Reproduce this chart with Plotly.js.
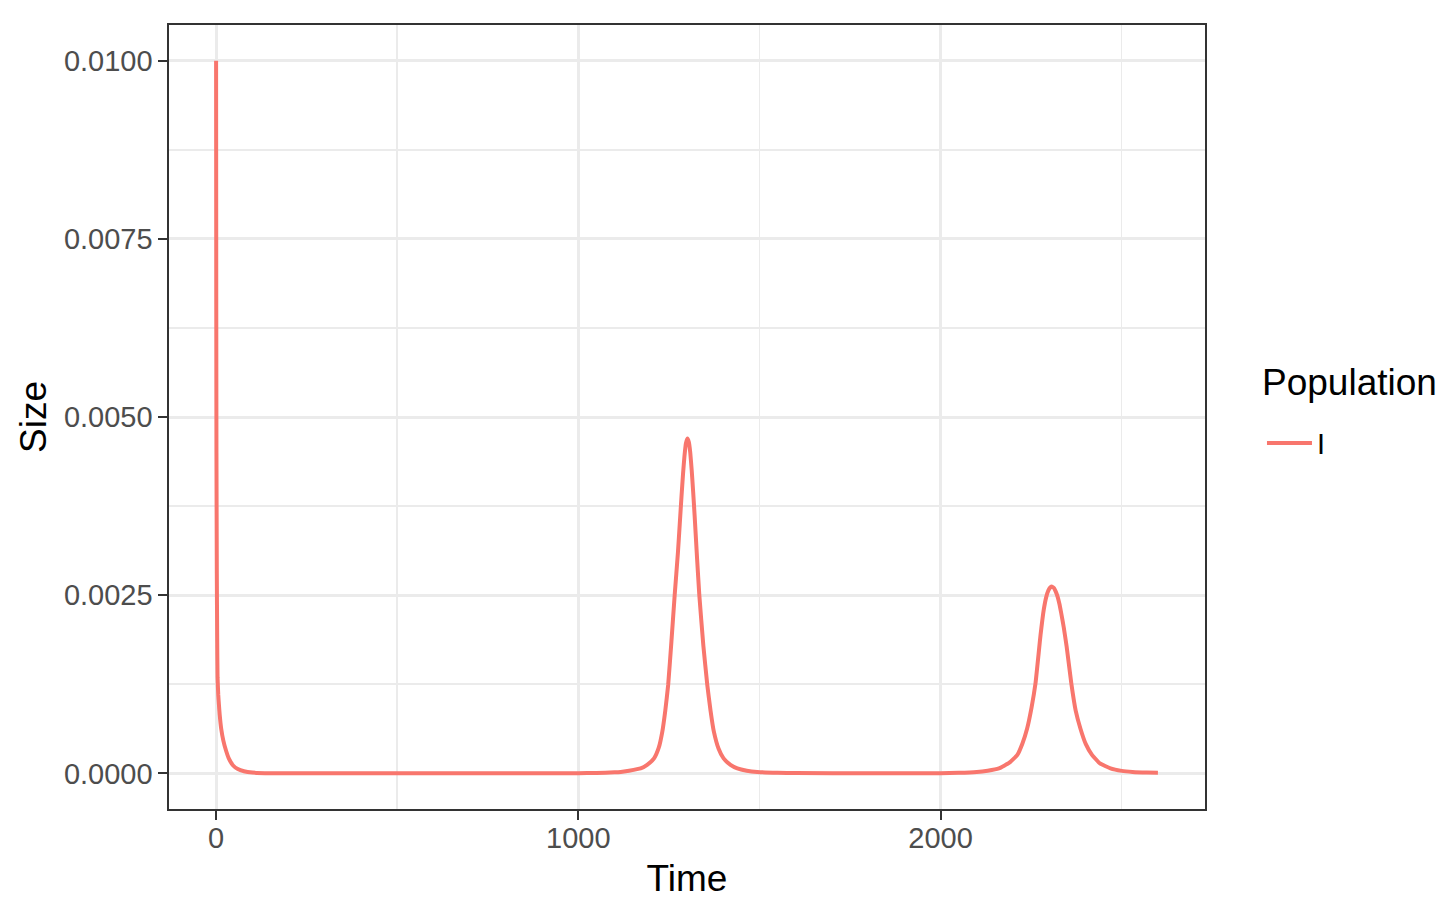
<!DOCTYPE html>
<html>
<head>
<meta charset="utf-8">
<script src="https://cdn.plot.ly/plotly-3.0.1.min.js"></script>
<style>
  html, body { margin: 0; padding: 0; background: #ffffff; }
  #chart { width: 1454px; height: 918px; }
</style>
</head>
<body>
<div id="chart"></div>
<script>
// Series "I"
var seriesName = "I";
var legendTitle = "Population";
var time = [
  0, 0.5, 1, 2, 3, 4, 6, 8, 10, 14, 20, 28, 35, 47, 60, 77, 100, 150, 200,
  400, 600, 800, 1000, 1050, 1100, 1117, 1140, 1172, 1190, 1209, 1222, 1232,
  1240, 1248, 1257, 1266, 1275, 1280, 1285, 1289, 1293, 1297, 1301, 1305,
  1309, 1313, 1317, 1321, 1328, 1334, 1345, 1356, 1365, 1374, 1387, 1401,
  1420, 1439, 1465, 1494,
  1550, 1600, 1800, 2000, 2050, 2100, 2130, 2161, 2190, 2212, 2226, 2239,
  2251, 2262, 2276, 2285, 2292, 2298, 2303, 2308, 2313, 2318, 2323, 2328,
  2333, 2340, 2348, 2361, 2373, 2386, 2401, 2418, 2440, 2469, 2500, 2530,
  2570, 2600
];
var sizeI = [
  0.0100, 0.0065, 0.0045, 0.0028, 0.0019, 0.00135, 0.0011, 0.00095, 0.00082,
  0.00063, 0.00046, 0.00031, 0.00021, 0.00011, 0.00006, 0.00003, 0.000012,
  0.000003, 0.000001,
  0.0, 0.0, 0.0000005, 0.000002, 0.000006, 0.000014, 0.00002, 0.000038,
  0.00007, 0.00012, 0.00021, 0.00036, 0.00059,
  0.00088, 0.00124, 0.00185, 0.0025, 0.0031, 0.0035, 0.0039, 0.0042, 0.00445,
  0.00463, 0.0047, 0.00465,
  0.0045, 0.00425, 0.00395, 0.00362, 0.0030, 0.0025, 0.0018, 0.00124,
  0.00088, 0.00059, 0.00035, 0.00021,
  0.00012, 0.00007, 0.000038, 0.00002,
  0.000008, 0.000004, 0.000001, 0.000003, 0.000008, 0.00002, 0.000038,
  0.00007, 0.00015, 0.00026, 0.00042, 0.00063,
  0.00092, 0.00126, 0.00194, 0.0023, 0.00248, 0.00257, 0.00261, 0.00262,
  0.0026, 0.00255, 0.00248, 0.00238,
  0.00225, 0.00205, 0.00178, 0.00126, 0.00088,
  0.00063, 0.00041, 0.00026, 0.00014, 0.00007, 0.000035, 0.00002,
  0.000012, 0.00001
];

var xTicks = [0, 1000, 2000];
var xTickText = ["0", "1000", "2000"];
var yTicks = [0, 0.0025, 0.005, 0.0075, 0.01];
var yTickText = ["0.0000", "0.0025", "0.0050", "0.0075", "0.0100"];

var FONT = "Liberation Sans, Arial, Helvetica, sans-serif";

var traces = [{
  x: time,
  y: sizeI,
  type: "scatter",
  mode: "lines",
  name: seriesName,
  line: { color: "#F8766D", width: 4, shape: "spline", smoothing: 0.4 }
}];

var layout = {
  width: 1454,
  height: 918,
  paper_bgcolor: "#ffffff",
  plot_bgcolor: "#ffffff",
  margin: { l: 169, r: 249, t: 25, b: 109, pad: 0 },
  font: { family: FONT, color: "#000000" },
  showlegend: true,
  legend: {
    x: 1.055, xanchor: "left",
    y: 0.4668, yanchor: "middle",
    bgcolor: "rgba(0,0,0,0)",
    borderwidth: 0,
    itemwidth: 45,
    font: { family: FONT, size: 29, color: "#000000" }
  },
  annotations: [{
    text: legendTitle,
    xref: "paper", yref: "paper",
    x: 1.0531, y: 0.5446,
    xanchor: "left", yanchor: "middle",
    showarrow: false,
    font: { family: FONT, size: 37, color: "#000000" }
  }],
  xaxis: {
    range: [-130, 2730],
    tickmode: "array",
    tickvals: xTicks,
    ticktext: xTickText,
    ticks: "outside",
    ticklen: 9,
    tickwidth: 2,
    tickcolor: "#333333",
    ticklabelstandoff: -6,
    tickfont: { family: FONT, size: 29, color: "#4D4D4D" },
    showgrid: true,
    gridcolor: "#EBEBEB",
    gridwidth: 3,
    minor: { tickvals: [500, 1500, 2500], showgrid: true, gridcolor: "#EBEBEB", gridwidth: 1.6, ticks: "" },
    zeroline: false,
    showline: true,
    linecolor: "#333333",
    linewidth: 1.6,
    mirror: true,
    automargin: false,
    title: { text: "Time", font: { family: FONT, size: 37, color: "#000000" }, standoff: 11 }
  },
  yaxis: {
    range: [-0.0005, 0.0105],
    tickmode: "array",
    tickvals: yTicks,
    ticktext: yTickText,
    ticks: "outside",
    ticklen: 9,
    tickwidth: 2,
    tickcolor: "#333333",
    ticklabelstandoff: 0,
    tickfont: { family: FONT, size: 29, color: "#4D4D4D" },
    showgrid: true,
    gridcolor: "#EBEBEB",
    gridwidth: 3,
    minor: { tickvals: [0.00125, 0.00375, 0.00625, 0.00875], showgrid: true, gridcolor: "#EBEBEB", gridwidth: 1.6, ticks: "" },
    zeroline: false,
    showline: true,
    linecolor: "#333333",
    linewidth: 1.6,
    mirror: true,
    automargin: false,
    title: { text: "Size", font: { family: FONT, size: 37, color: "#000000" }, standoff: 6 }
  }
};

Plotly.newPlot("chart", traces, layout, { displayModeBar: false, staticPlot: true });
</script>
</body>
</html>
